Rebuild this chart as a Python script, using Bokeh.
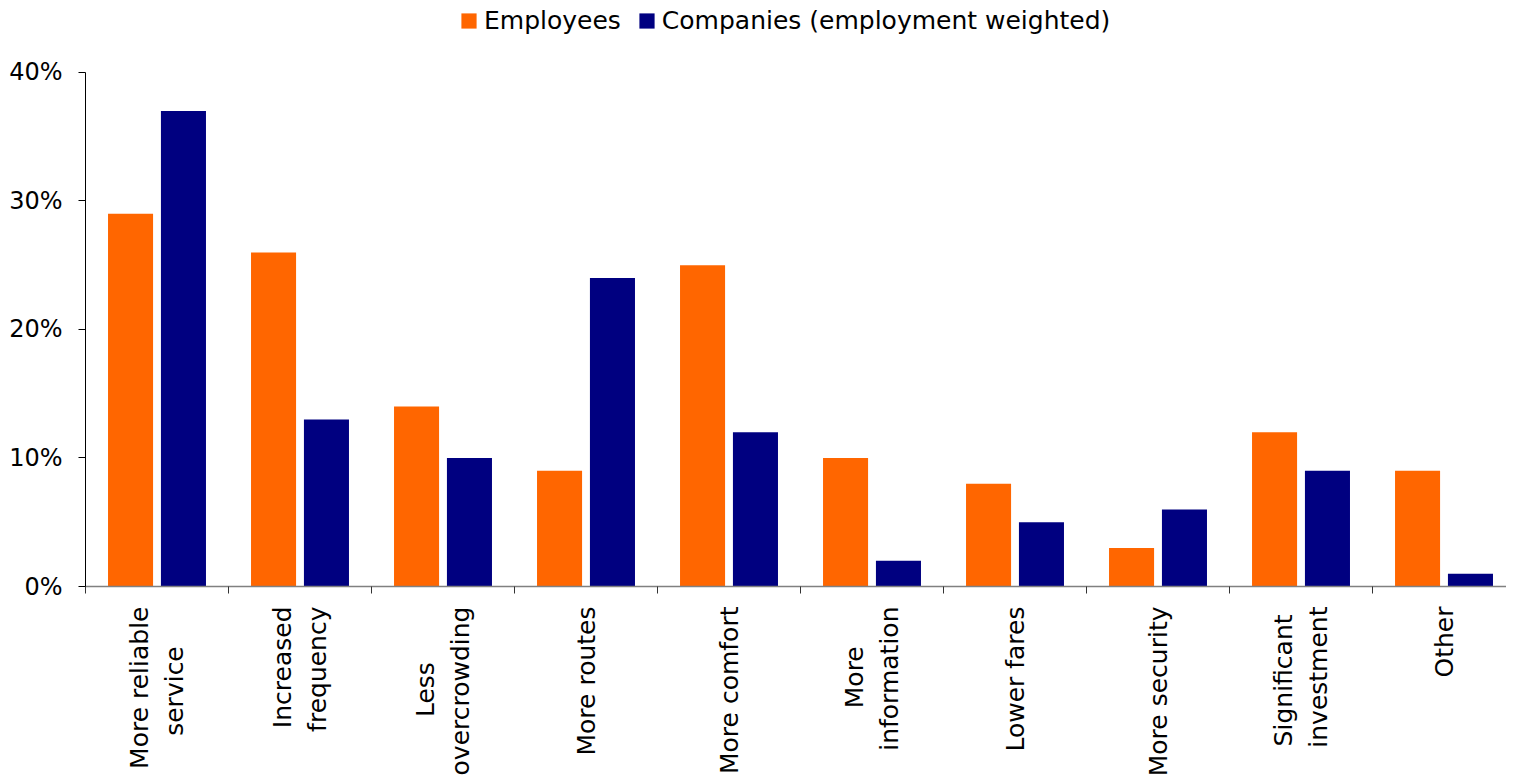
import math
from bokeh.plotting import figure
from bokeh.models import (ColumnDataSource, FixedTicker, PrintfTickFormatter, Legend,
                          LegendItem, Range1d)
from bokeh.embed import file_html
from bokeh.resources import INLINE

categories = ["More reliable\nservice", "Increased\nfrequency", "Less\novercrowding",
              "More routes", "More comfort", "More\ninformation", "Lower fares",
              "More security", "Significant\ninvestment", "Other"]
employees = [29, 26, 14, 9, 25, 10, 8, 3, 12, 9]
companies = [37, 13, 10, 24, 12, 2, 5, 6, 9, 1]
series_names = ["Employees", "Companies (employment weighted)"]
y_ticks = [0, 10, 20, 30, 40]

FONT = "DejaVu Sans"
ORANGE = "#FF6600"
NAVY = "#000080"

# approximate DejaVu Sans advance widths (em) used to centre multi-line labels
_W = {'a': .613, 'b': .635, 'c': .550, 'd': .635, 'e': .615, 'f': .352, 'g': .635,
      'h': .634, 'i': .278, 'l': .278, 'm': .974, 'n': .634, 'o': .612, 'p': .635,
      'q': .635, 'r': .411, 's': .521, 't': .392, 'u': .634, 'v': .592, 'w': .818,
      'y': .592, ' ': .318, 'M': .863, 'I': .295, 'L': .557, 'S': .635, 'O': .787}
NBSP = "\u00a0"


def centre_lines(label):
    lines = label.split("\n")
    if len(lines) == 1:
        return label
    widths = [sum(_W.get(ch, .6) for ch in ln) for ln in lines]
    mx = max(widths)
    out = []
    for ln, w in zip(lines, widths):
        k = int(round((mx - w) / 2 / .318))
        out.append(ln + NBSP * k)
    return "\n".join(out)


n = len(categories)
centers = [i + 0.5 for i in range(n)]
src = ColumnDataSource(dict(
    xe=[c - 0.185 for c in centers],
    xc=[c + 0.185 for c in centers],
    emp=employees,
    com=companies,
))

W, H = 1506, 780
p = figure(width=W, height=H, output_backend="svg", toolbar_location=None,
           x_range=Range1d(0, 9.937), y_range=Range1d(0, 45.6),
           min_border_left=85, min_border_right=0, min_border_top=0,
           min_border_bottom=194)
p.outline_line_color = None
p.xgrid.grid_line_color = None
p.ygrid.grid_line_color = None
p.background_fill_color = "white"

r1 = p.vbar(x="xe", top="emp", width=0.315, source=src, fill_color=ORANGE, line_color=None)
r2 = p.vbar(x="xc", top="com", width=0.315, source=src, fill_color=NAVY, line_color=None)

# y axis
ya = p.yaxis[0]
ya.ticker = FixedTicker(ticks=y_ticks, minor_ticks=[])
ya.bounds = (0, 40)
ya.formatter = PrintfTickFormatter(format="%d%%")
ya.major_label_text_font = FONT
ya.major_label_text_font_size = "24px"
ya.major_label_text_color = "black"
ya.major_tick_out = 7
ya.major_tick_in = 0
ya.major_label_standoff = 16
ya.axis_line_color = "black"
ya.major_tick_line_color = "black"

# x axis
xa = p.xaxis[0]
xa.ticker = FixedTicker(ticks=centers, minor_ticks=list(range(n + 1)))
xa.major_label_overrides = {c: centre_lines(lab) for c, lab in zip(centers, categories)}
xa.major_label_orientation = math.pi / 2
xa.major_label_text_align = "center"
xa.major_label_text_font = FONT
xa.major_label_text_font_size = "25px"
xa.major_label_text_color = "black"
xa.major_tick_line_color = None
xa.major_tick_out = 0
xa.major_tick_in = 0
xa.minor_tick_out = 7
xa.minor_tick_in = 0
xa.minor_tick_line_color = "#333333"
xa.axis_line_color = "#808080"
xa.axis_line_width = 1.5
xa.major_label_standoff = 13

legend = Legend(items=[LegendItem(label=series_names[0], renderers=[r1]),
                       LegendItem(label=series_names[1], renderers=[r2])],
                orientation="horizontal", location=(374, 551),
                label_text_font=FONT, label_text_font_size="25px",
                label_text_color="black",
                glyph_width=19, glyph_height=19, label_standoff=6, spacing=16,
                padding=0, margin=0, border_line_color=None,
                background_fill_alpha=0)
p.add_layout(legend, "center")

open("out.html", "w").write(file_html(p, INLINE))
